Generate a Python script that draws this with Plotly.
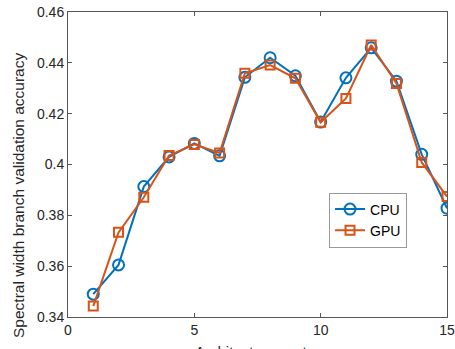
import plotly.graph_objects as go

x_vals = list(range(1, 16))
cpu_acc = [0.3490, 0.3605, 0.3913, 0.4030, 0.4083, 0.4034, 0.4343, 0.4420,
           0.4349, 0.4167, 0.4341, 0.4459, 0.4328, 0.4040, 0.3828]
gpu_acc = [0.3443, 0.3733, 0.3871, 0.4035, 0.4079, 0.4045, 0.4359, 0.4391,
           0.4339, 0.4166, 0.4260, 0.4470, 0.4319, 0.4008, 0.3874]
x_ticks = [0, 5, 10, 15]
y_ticks = [0.34, 0.36, 0.38, 0.40, 0.42, 0.44, 0.46]
y_tick_text = ["0.34", "0.36", "0.38", "0.4", "0.42", "0.44", "0.46"]

FONT = "Liberation Sans, Arial, Helvetica, sans-serif"
AXC = "#555555"
TXT = "#262626"

fig = go.Figure()
fig.add_trace(go.Scatter(
    x=x_vals, y=cpu_acc, name="CPU", mode="lines+markers",
    line=dict(color="#0072BD", width=2),
    marker=dict(symbol="circle-open", size=11, line=dict(width=2, color="#0072BD")),
))
fig.add_trace(go.Scatter(
    x=x_vals, y=gpu_acc, name="GPU", mode="lines+markers",
    line=dict(color="#D95319", width=2),
    marker=dict(symbol="square-open", size=9, line=dict(width=2, color="#D95319")),
))

fig.update_layout(
    width=455, height=349,
    margin=dict(l=68, r=8, t=12, b=32, autoexpand=False),
    paper_bgcolor="white", plot_bgcolor="white",
    font=dict(family=FONT, size=14, color=TXT),
    showlegend=True,
    legend=dict(
        x=0.7916, y=0.318, xanchor="center", yanchor="middle",
        bgcolor="white", bordercolor="#999999", borderwidth=1,
        font=dict(family=FONT, size=14, color="#000000"),
        itemwidth=30, tracegroupgap=0,
    ),
)
fig.update_xaxes(
    range=[0, 15], tickvals=x_ticks, ticks="inside", ticklen=4, automargin=False,
    tickcolor=AXC, showline=True, linecolor=AXC, linewidth=1, mirror="allticks",
    showgrid=False, zeroline=False, tickfont=dict(size=14, color=TXT),
)
fig.update_yaxes(
    range=[0.34, 0.46], tickvals=y_ticks, ticktext=y_tick_text, ticks="inside", ticklen=4,
    automargin=False,
    tickcolor=AXC, showline=True, linecolor=AXC, linewidth=1, mirror="allticks",
    showgrid=False, zeroline=False, tickfont=dict(size=14, color=TXT),
)
fig.add_annotation(
    text="Spectral width branch validation accuracy", xref="paper", yref="paper",
    x=-0.132, y=0.40, xanchor="center", yanchor="middle", textangle=-90,
    showarrow=False, font=dict(family=FONT, size=15.5, color=TXT),
)
fig.add_annotation(
    text="Architecture vector", xref="paper", yref="paper",
    x=0.5, y=-0.078, xanchor="center", yanchor="top",
    showarrow=False, font=dict(family=FONT, size=15, color=TXT),
)
fig.write_html("out.html")
